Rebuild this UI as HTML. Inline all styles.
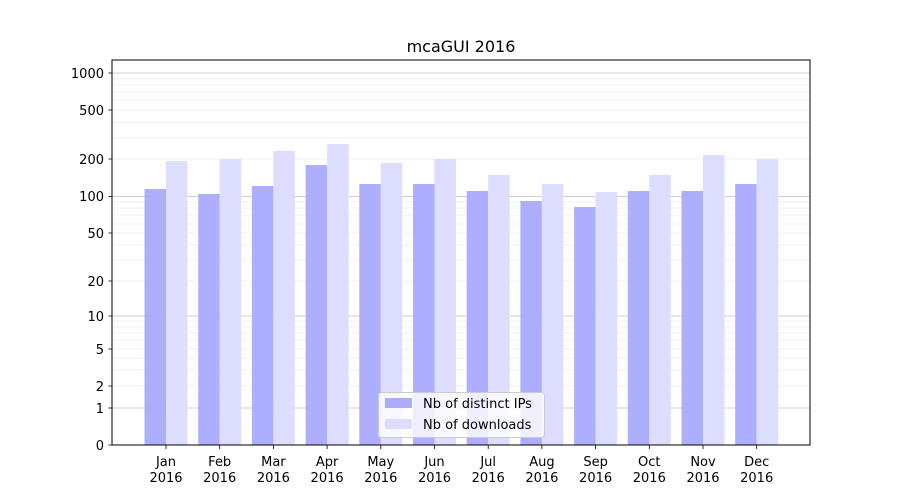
<!DOCTYPE html>
<html><head><meta charset="utf-8"><style>body{margin:0;background:#fff}svg{display:block;font-family:"DejaVu Sans","Liberation Sans",sans-serif}</style></head><body>
<svg width="900" height="500" viewBox="0 0 900 500" xmlns="http://www.w3.org/2000/svg">
<rect width="900" height="500" fill="#fff"/>
<g stroke="#ebebeb" stroke-width="0.8">
<line x1="112" x2="810" y1="386" y2="386"/><line x1="112" x2="810" y1="370" y2="370"/><line x1="112" x2="810" y1="358" y2="358"/><line x1="112" x2="810" y1="349" y2="349"/><line x1="112" x2="810" y1="340" y2="340"/><line x1="112" x2="810" y1="333" y2="333"/><line x1="112" x2="810" y1="327" y2="327"/><line x1="112" x2="810" y1="321" y2="321"/>
<line x1="112" x2="810" y1="281" y2="281"/><line x1="112" x2="810" y1="260" y2="260"/><line x1="112" x2="810" y1="245" y2="245"/><line x1="112" x2="810" y1="233" y2="233"/><line x1="112" x2="810" y1="224" y2="224"/><line x1="112" x2="810" y1="215" y2="215"/><line x1="112" x2="810" y1="208" y2="208"/><line x1="112" x2="810" y1="202" y2="202"/>
<line x1="112" x2="810" y1="159" y2="159"/><line x1="112" x2="810" y1="138" y2="138"/><line x1="112" x2="810" y1="122.5" y2="122.5"/><line x1="112" x2="810" y1="110" y2="110"/><line x1="112" x2="810" y1="100" y2="100"/><line x1="112" x2="810" y1="92" y2="92"/><line x1="112" x2="810" y1="85" y2="85"/><line x1="112" x2="810" y1="79" y2="79"/>
</g>
<g stroke="#c0c0c0" stroke-width="0.8">
<line x1="112" x2="810" y1="408" y2="408"/><line x1="112" x2="810" y1="316" y2="316"/><line x1="112" x2="810" y1="196.5" y2="196.5"/><line x1="112" x2="810" y1="73" y2="73"/>
</g>
<g fill="#aaaaff" fill-opacity="0.95">
<rect x="144.5" y="189" width="21.5" height="256"/>
<rect x="198.2" y="194" width="21.5" height="251"/>
<rect x="251.9" y="186" width="21.5" height="259"/>
<rect x="305.6" y="165" width="21.5" height="280"/>
<rect x="359.3" y="184" width="21.5" height="261"/>
<rect x="413" y="184" width="21.5" height="261"/>
<rect x="466.7" y="191" width="21.5" height="254"/>
<rect x="520.4" y="201" width="21.5" height="244"/>
<rect x="574.1" y="207" width="21.5" height="238"/>
<rect x="627.8" y="191" width="21.5" height="254"/>
<rect x="681.5" y="191" width="21.5" height="254"/>
<rect x="735.2" y="184" width="21.5" height="261"/>
</g>
<g fill="#ddddff">
<rect x="166" y="161" width="21.5" height="284"/>
<rect x="219.7" y="159" width="21.5" height="286"/>
<rect x="273.4" y="151" width="21.5" height="294"/>
<rect x="327.1" y="144" width="21.5" height="301"/>
<rect x="380.8" y="163" width="21.5" height="282"/>
<rect x="434.5" y="159" width="21.5" height="286"/>
<rect x="488.2" y="175" width="21.5" height="270"/>
<rect x="541.9" y="184" width="21.5" height="261"/>
<rect x="595.6" y="192" width="21.5" height="253"/>
<rect x="649.3" y="175" width="21.5" height="270"/>
<rect x="703" y="155" width="21.5" height="290"/>
<rect x="756.7" y="159" width="21.5" height="286"/>
</g>
<rect x="112" y="60" width="698" height="385" fill="none" stroke="#000" stroke-width="1"/>
<g stroke="#000" stroke-width="0.8">
<line x1="108.5" x2="112" y1="445" y2="445"/><line x1="108.5" x2="112" y1="408" y2="408"/><line x1="108.5" x2="112" y1="386" y2="386"/><line x1="108.5" x2="112" y1="349" y2="349"/><line x1="108.5" x2="112" y1="316" y2="316"/><line x1="108.5" x2="112" y1="281" y2="281"/><line x1="108.5" x2="112" y1="233" y2="233"/><line x1="108.5" x2="112" y1="196.5" y2="196.5"/><line x1="108.5" x2="112" y1="159" y2="159"/><line x1="108.5" x2="112" y1="110" y2="110"/><line x1="108.5" x2="112" y1="73" y2="73"/>
</g>
<g font-size="13" text-anchor="end" fill="#000">
<text x="104" y="450">0</text><text x="104" y="413">1</text><text x="104" y="391">2</text><text x="104" y="354">5</text><text x="104" y="321">10</text><text x="104" y="286">20</text><text x="104" y="238">50</text><text x="104" y="201">100</text><text x="104" y="164">200</text><text x="104" y="115">500</text><text x="104" y="78">1000</text>
</g>
<g stroke="#000" stroke-width="0.8">
<line x1="166" x2="166" y1="445" y2="449"/><line x1="219.7" x2="219.7" y1="445" y2="449"/><line x1="273.4" x2="273.4" y1="445" y2="449"/><line x1="327.1" x2="327.1" y1="445" y2="449"/><line x1="380.8" x2="380.8" y1="445" y2="449"/><line x1="434.5" x2="434.5" y1="445" y2="449"/><line x1="488.2" x2="488.2" y1="445" y2="449"/><line x1="541.9" x2="541.9" y1="445" y2="449"/><line x1="595.6" x2="595.6" y1="445" y2="449"/><line x1="649.3" x2="649.3" y1="445" y2="449"/><line x1="703" x2="703" y1="445" y2="449"/><line x1="756.7" x2="756.7" y1="445" y2="449"/>
</g>
<g font-size="13" text-anchor="middle" fill="#000">
<text x="166" y="466">Jan</text><text x="166" y="482">2016</text>
<text x="219.7" y="466">Feb</text><text x="219.7" y="482">2016</text>
<text x="273.4" y="466">Mar</text><text x="273.4" y="482">2016</text>
<text x="327.1" y="466">Apr</text><text x="327.1" y="482">2016</text>
<text x="380.8" y="466">May</text><text x="380.8" y="482">2016</text>
<text x="434.5" y="466">Jun</text><text x="434.5" y="482">2016</text>
<text x="488.2" y="466">Jul</text><text x="488.2" y="482">2016</text>
<text x="541.9" y="466">Aug</text><text x="541.9" y="482">2016</text>
<text x="595.6" y="466">Sep</text><text x="595.6" y="482">2016</text>
<text x="649.3" y="466">Oct</text><text x="649.3" y="482">2016</text>
<text x="703" y="466">Nov</text><text x="703" y="482">2016</text>
<text x="756.7" y="466">Dec</text><text x="756.7" y="482">2016</text>
</g>
<text x="461" y="52" font-size="16" text-anchor="middle">mcaGUI 2016</text>
<rect x="378.5" y="392.5" width="166" height="45" rx="3" fill="#fff" fill-opacity="0.8" stroke="#ccc"/>
<rect x="385" y="398" width="27" height="10" fill="#aaaaff"/>
<rect x="385" y="419" width="27" height="10" fill="#ddddff"/>
<text x="423" y="408" font-size="13">Nb of distinct IPs</text>
<text x="423" y="429" font-size="13">Nb of downloads</text>
</svg>
</body></html>
